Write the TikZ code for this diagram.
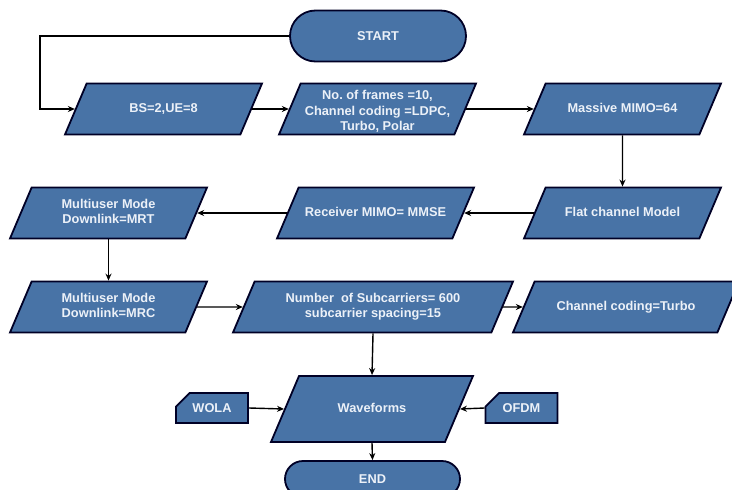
\documentclass[tikz,border=0pt]{standalone}
\usepackage{fontspec}
\setmainfont{Liberation Sans}
\usetikzlibrary{shapes.geometric,shapes.misc,arrows.meta}
\definecolor{boxblue}{RGB}{72,115,166}
\definecolor{boxtext}{RGB}{236,241,248}
\newcommand{\iobox}[2][40pt]{\vbox to #1{\vfil\hbox{\begin{tabular}{@{}c@{}}#2\end{tabular}}\vfil}}
\tikzset{
  base/.style={draw=black!85!blue, line width=1.8pt, fill=boxblue, text=boxtext,
    font=\fontsize{12.8}{15.5}\selectfont\bfseries, inner sep=0pt},
  io/.style={base, trapezium, trapezium left angle=67, trapezium right angle=113,
    trapezium stretches body, inner ysep=5.5pt, minimum width=197pt},
  term/.style={base, rounded rectangle, minimum height=51pt, minimum width=176pt},
  card/.style={base, chamfered rectangle, chamfered rectangle corners=north west,
    chamfered rectangle xsep=16pt, chamfered rectangle ysep=9pt,
    minimum height=30pt, minimum width=72pt},
  arr/.style={line width=1.4pt, -{Stealth[length=7pt,width=6pt]}}
}
\begin{document}
\begin{tikzpicture}[x=1pt,y=-1pt]
\useasboundingbox[fill=white] (0,0) rectangle (732,490);
\node[term] (start) at (378,36) {START};
\node[io] (bs) at (163.5,109) {\iobox{BS=2,UE=8}};
\node[io] (frames) at (377.5,109) {\iobox{No.\ of frames =10,\\Channel coding =LDPC,\\Turbo, Polar}};
\node[io] (massive) at (622.5,109) {\iobox{Massive MIMO=64}};
\node[io] (flat) at (622.5,213) {\iobox{Flat channel Model}};
\node[io] (receiver) at (375.5,213) {\iobox{Receiver MIMO= MMSE}};
\node[io] (mrt) at (108.5,213) {\iobox{Multiuser Mode\\Downlink=MRT}};
\node[io] (mrc) at (108.5,307) {\iobox{Multiuser Mode\\Downlink=MRC}};
\node[io, minimum width=280pt] (number) at (373,307) {\iobox{Number~ of Subcarriers= 600\\subcarrier spacing=15}};
\node[io, minimum width=226pt] (coding) at (626,307) {\iobox{Channel coding=Turbo}};
\node[io, minimum width=202pt] (wave) at (372,409) {\iobox[55pt]{Waveforms}};
\node[card] (wola) at (212,408) {WOLA};
\node[card] (ofdm) at (521.5,408) {OFDM};
\node[term, minimum width=175pt, minimum height=36pt] (end) at (372.5,479) {END};
\coordinate (loop) at (40,36);
\draw[arr] (start.west) -- (loop) |- (bs.west);
\draw[arr] (bs.east) -- (frames.west);
\draw[arr] (frames.east) -- (massive.west);
\draw[arr] (massive.south) -- (flat.north);
\draw[arr] (flat.west) -- (receiver.east);
\draw[arr] (receiver.west) -- (mrt.east);
\draw[arr] (mrt.south) -- (mrc.north);
\draw[arr] (mrc.east) -- (number.west);
\draw[arr] (number.east) -- (coding.west);
\draw[arr] (number.south) -- (wave.north);
\draw[arr] (wola.east) -- (wave.west);
\draw[arr] (ofdm.west) -- (wave.east);
\draw[arr] (wave.south) -- (end.north);
\end{tikzpicture}
\end{document}
